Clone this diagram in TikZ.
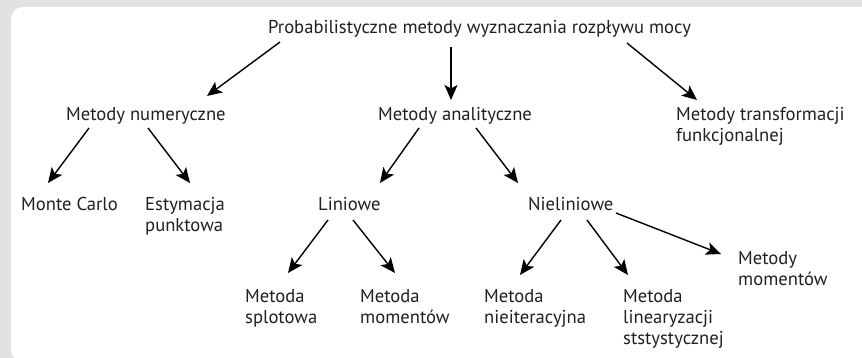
\documentclass[tikz,border=0pt]{standalone}
\usepackage{fontspec}
\setmainfont{PT Sans}
\usepackage{tikz}
\usetikzlibrary{arrows.meta}
\definecolor{tlo}{RGB}{225,226,228}
\definecolor{tekst}{RGB}{35,31,32}

\begin{document}
\begin{tikzpicture}[x=1pt, y=-1pt, lbl/.style={anchor=base west, inner sep=0pt, align=left, text=tekst, font=\fontsize{18.6}{21}\selectfont}, arr/.style={-{Stealth[length=15pt,width=13pt,inset=3.5pt]}, line width=1.4pt, black}]
		\useasboundingbox (0,0) rectangle (862,358);
		\fill[tlo] (0,0) rectangle (862,358);
		\fill[white, rounded corners=12pt] (11,7) rectangle (880,362);
		\node[lbl] (prob) at (268,34) {Probabilistyczne metody wyznaczania rozpływu mocy};
		\node[lbl] (num) at (66,121) {Metody numeryczne};
		\node[lbl] (anal) at (378,121) {Metody analityczne};
		\node[lbl] (trans) at (676,142) {Metody transformacji\\funkcjonalnej};
		\node[lbl] (monte) at (21,211) {Monte Carlo};
		\node[lbl] (estym) at (145,232) {Estymacja\\punktowa};
		\node[lbl] (lin) at (318,211) {Liniowe};
		\node[lbl] (nielin) at (528,211) {Nieliniowe};
		\node[lbl] (splot) at (245,323) {Metoda\\splotowa};
		\node[lbl] (mom) at (360,323) {Metoda\\momentów};
		\node[lbl] (nieit) at (484,323) {Metoda\\nieiteracyjna};
		\node[lbl] (linear) at (623,344) {Metoda\\linearyzacji\\ststystycznej};
		\node[lbl] (momnl) at (738,285) {Metody\\momentów};
		\draw[arr] ([shift={(12,8)}]prob.base west) -- ([shift={(141,-25)}]num.base west);
		\draw[arr] ([shift={(183,13)}]prob.base west) -- ([shift={(73,-21)}]anal.base west);
		\draw[arr] ([shift={(359,9)}]prob.base west) -- ([shift={(21,-42)}]trans.base west);
		\draw[arr] ([shift={(23,7)}]num.base west) -- ([shift={(27,-28)}]monte.base west);
		\draw[arr] ([shift={(82,7)}]num.base west) -- ([shift={(45,-49)}]estym.base west);
		\draw[arr] ([shift={(41,7)}]anal.base west) -- ([shift={(62,-28)}]lin.base west);
		\draw[arr] ([shift={(98,7)}]anal.base west) -- ([shift={(-10,-28)}]nielin.base west);
		\draw[arr] ([shift={(10,9)}]lin.base west) -- ([shift={(43,-50)}]splot.base west);
		\draw[arr] ([shift={(35,9)}]lin.base west) -- ([shift={(35,-50)}]mom.base west);
		\draw[arr] ([shift={(33,9)}]nielin.base west) -- ([shift={(36,-48)}]nieit.base west);
		\draw[arr] ([shift={(59,9)}]nielin.base west) -- ([shift={(5,-69)}]linear.base west);
		\draw[arr] ([shift={(88,2)}]nielin.base west) -- ([shift={(-17,-31)}]momnl.base west);
	\end{tikzpicture}
\end{document}
